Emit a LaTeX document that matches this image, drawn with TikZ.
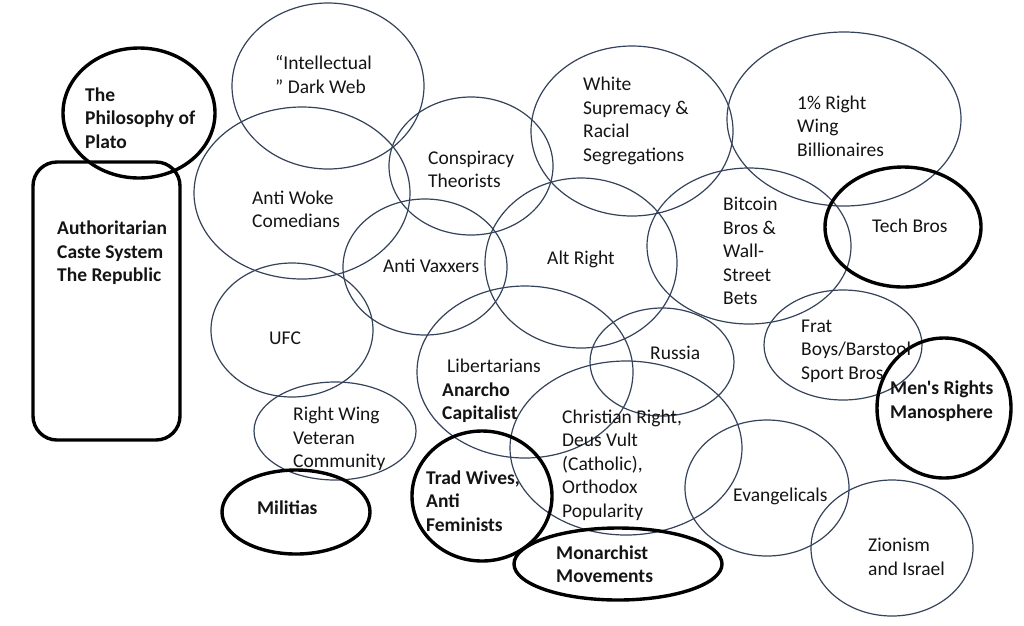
\documentclass[tikz,border=0pt]{standalone}
\usepackage{fontspec}
\setmainfont{Carlito}[Ligatures=TeXOff]
\definecolor{slate}{HTML}{34425A}
\definecolor{ink}{HTML}{141414}
\begin{document}
\begin{tikzpicture}[x=1pt,y=-1pt,
  ring/.style={draw=slate, line width=1.2pt},
  boldring/.style={draw=black, line width=3.4pt},
  lbl/.style={anchor=west, align=left, inner sep=0pt, text=ink, font=\fontsize{19.5}{23.5}\selectfont},
  blbl/.style={lbl, font=\fontsize{19.5}{23.5}\selectfont\bfseries}]
\useasboundingbox (0,0) rectangle (1024,625);
% thin ellipses
\draw[ring] (328,86) ellipse [x radius=96, y radius=83];
\draw[ring] (302,193) ellipse [x radius=108, y radius=86];
\draw[ring] (471,166) ellipse [x radius=82, y radius=69];
\draw[ring] (632,131) ellipse [x radius=101, y radius=85];
\draw[ring] (844,119) ellipse [x radius=117, y radius=87];
\draw[ring] (581,263) ellipse [x radius=96, y radius=85];
\draw[ring] (425,267) ellipse [x radius=82, y radius=68];
\draw[ring] (749,246) ellipse [x radius=102, y radius=78];
\draw[ring] (292,330) ellipse [x radius=81, y radius=67];
\draw[ring] (335,431) ellipse [x radius=81, y radius=49];
\draw[ring] (525,372) ellipse [x radius=108, y radius=86];
\draw[ring] (662,362) ellipse [x radius=72, y radius=54];
\draw[ring] (626,448) ellipse [x radius=116, y radius=87];
\draw[ring] (843,345) ellipse [x radius=79, y radius=55];
\draw[ring] (767,488) ellipse [x radius=82, y radius=68];
\draw[ring] (892,548) ellipse [x radius=81, y radius=68];
% thick black shapes
\draw[boldring] (139,113) ellipse [x radius=76, y radius=65];
\draw[boldring, rounded corners=24pt] (33,162) rectangle (180,440);
\draw[boldring] (903,227) ellipse [x radius=78, y radius=60];
\draw[boldring] (944,408) ellipse [x radius=67, y radius=70];
\draw[boldring] (296,512) ellipse [x radius=74, y radius=42];
\draw[boldring] (482,496) ellipse [x radius=70, y radius=65];
\draw[boldring] (618,564) ellipse [x radius=104, y radius=36];
% labels
\node[lbl] (idw) at (275,74.5) {“Intellectual\\” Dark Web};
\node[blbl] (plato) at (85,118) {The\\Philosophy of\\Plato};
\node[blbl] (auth) at (57,253) {Authoritarian\\Caste System\\The Republic};
\node[lbl] (woke) at (252,209.5) {Anti Woke\\Comedians};
\node[lbl] (consp) at (428,169.5) {Conspiracy\\Theorists};
\node[lbl] (white) at (583,121) {White\\Supremacy \&\\Racial\\Segregations};
\node[lbl] (rich) at (797,126) {1\% Right\\Wing\\Billionaires};
\node[lbl] (vax) at (383,266) {Anti Vaxxers};
\node[lbl] (alt) at (547,259) {Alt Right};
\node[lbl] (bitcoin) at (723,251) {Bitcoin\\Bros \&\\Wall-\\Street\\Bets};
\node[lbl] (tech) at (872,226) {Tech Bros};
\node[lbl] (ufc) at (269,338) {UFC};
\node[lbl] (libert) at (442,391) {\hspace*{5pt}Libertarians\\\textbf{Anarcho}\\\textbf{Capitalist}};
\node[lbl] (russia) at (650,353) {Russia};
\node[lbl] (frat) at (801,351) {Frat\\Boys/Barstool\\Sport Bros};
\node[blbl] (mens) at (890,401) {Men's Rights\\Manosphere};
\node[lbl] (vet) at (293,439) {Right Wing\\Veteran\\Community};
\node[lbl] (christ) at (562,465) {Christian Right,\\Deus Vult\\(Catholic),\\Orthodox\\Popularity};
\node[blbl] (militias) at (257,508) {Militias};
\node[blbl] (trad) at (426,501) {Trad Wives,\\Anti\\Feminists};
\node[lbl] (evang) at (733,496) {Evangelicals};
\node[blbl] (monarch) at (556,564) {Monarchist\\Movements};
\node[lbl] (zion) at (868,557) {Zionism\\and Israel};
\end{tikzpicture}
\end{document}
